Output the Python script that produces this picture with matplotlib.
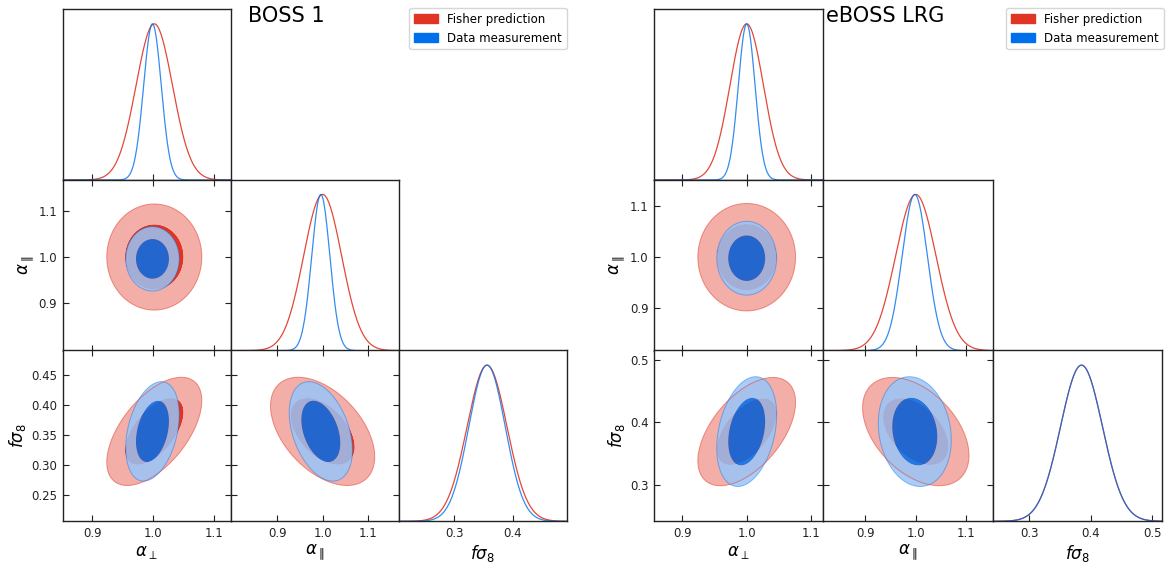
import numpy as np
import matplotlib
matplotlib.use("Agg")
import matplotlib.pyplot as plt
from matplotlib.patches import Patch
import matplotlib.colors as mcolors

FIG_W, FIG_H, DPI = 1170, 566, 100

# ---------------- data ----------------
param_labels = [r'$\alpha_{\perp}$', r'$\alpha_{\parallel}$', r'$f\sigma_8$']
series_names = ['Fisher prediction', 'Data measurement']
series_colors = ['#E03424', '#006FED']

# BOSS 1
boss_title = 'BOSS 1'
boss_limits = [(0.851, 1.128), (0.797, 1.168), (0.2055, 0.4917)]
boss_xticks = [[0.9, 1.0, 1.1], [0.9, 1.0, 1.1], [0.3, 0.4]]
boss_xticklabels = [['0.9', '1.0', '1.1'], ['0.9', '1.0', '1.1'], ['0.3', '0.4']]
boss_yticks = [[], [0.9, 1.0, 1.1], [0.25, 0.30, 0.35, 0.40, 0.45]]
boss_yticklabels = [[], ['0.9', '1.0', '1.1'], ['0.25', '0.30', '0.35', '0.40', '0.45']]
# mean, 2D sigma, 1D sigma, correlations (perp-par, perp-fs8, par-fs8)
boss_fisher_mean = [1.002, 1.000, 0.356]
boss_fisher_sigma = [0.032, 0.047, 0.037]
boss_fisher_sigma_1d = [0.030, 0.042, 0.034]
boss_fisher_corr = [0.0, 0.57, -0.47]
boss_data_mean = [0.999, 0.996, 0.356]
boss_data_sigma = [0.018, 0.0285, 0.034]
boss_data_sigma_1d = [0.0145, 0.020, 0.031]
boss_data_corr = [0.0, 0.33, -0.38]

# eBOSS LRG
eboss_title = 'eBOSS LRG'
eboss_limits = [(0.856, 1.119), (0.817, 1.152), (0.241, 0.5155)]
eboss_xticks = [[0.9, 1.0, 1.1], [0.9, 1.0, 1.1], [0.3, 0.4, 0.5]]
eboss_xticklabels = [['0.9', '1.0', '1.1'], ['0.9', '1.0', '1.1'], ['0.3', '0.4', '0.5']]
eboss_yticks = [[], [0.9, 1.0, 1.1], [0.3, 0.4, 0.5]]
eboss_yticklabels = [[], ['0.9', '1.0', '1.1'], ['0.3', '0.4', '0.5']]
eboss_fisher_mean = [1.000, 1.000, 0.385]
eboss_fisher_sigma = [0.031, 0.043, 0.0355]
eboss_fisher_sigma_1d = [0.026, 0.040, 0.034]
eboss_fisher_corr = [0.0, 0.54, -0.44]
eboss_data_mean = [1.000, 0.998, 0.385]
eboss_data_sigma = [0.019, 0.0295, 0.036]
eboss_data_sigma_1d = [0.013, 0.025, 0.034]
eboss_data_corr = [0.0, 0.30, -0.15]

contour_probs = [0.68, 0.95]

# ---------------- drawing ----------------
fig = plt.figure(figsize=(FIG_W / DPI, FIG_H / DPI), dpi=DPI)
fig.patch.set_facecolor('white')

TICK_FS = 8.5
LABEL_FS = 12


def px_axes(x, y, w, h):
    return fig.add_axes([x / FIG_W, 1 - (y + h) / FIG_H, w / FIG_W, h / FIG_H])


def pale(color, f=0.6):
    r, g, b = mcolors.to_rgb(color)
    return (r * (1 - f) + f, g * (1 - f) + f, b * (1 - f) + f)


def style_axes(ax, one_d=False):
    for s in ax.spines.values():
        s.set_linewidth(1.0)
        s.set_color('#222222')
    if one_d:
        ax.tick_params(axis='x', direction='in', length=4, width=0.8,
                       top=False, bottom=True, labelsize=TICK_FS, pad=4, colors='#222222')
        ax.set_yticks([])
    else:
        ax.tick_params(direction='in', length=4, width=0.8, top=True, right=True,
                       labelsize=TICK_FS, pad=4, colors='#222222')


def draw_triangle(col_x, col_w, row_y, row_h, limits, xticks, xticklabels, yticks,
                  yticklabels, means, sig2d, sig1d, corrs, title, title_x, legend_x):
    n = 3
    corr_index = {(0, 1): 0, (0, 2): 1, (1, 2): 2}
    levels = [-2 * np.log(1 - p) for p in contour_probs]
    for i in range(n):
        for j in range(i + 1):
            ax = px_axes(col_x[j], row_y[i], col_w, row_h)
            if i == j:
                style_axes(ax, one_d=True)
                xs = np.linspace(limits[i][0], limits[i][1], 500)
                for k in range(2):
                    m, s = means[k][i], sig1d[k][i]
                    ax.plot(xs, np.exp(-0.5 * ((xs - m) / s) ** 2),
                            color=series_colors[k], lw=0.9,
                            alpha=0.9 if k == 0 else 0.8)
                ax.set_xlim(limits[i])
                ax.set_ylim(0, 1.095)
            else:
                style_axes(ax)
                xs = np.linspace(limits[j][0], limits[j][1], 400)
                ys = np.linspace(limits[i][0], limits[i][1], 400)
                X, Y = np.meshgrid(xs, ys)
                for k in range(2):
                    mx, my = means[k][j], means[k][i]
                    sx, sy = sig2d[k][j], sig2d[k][i]
                    rho = corrs[k][corr_index[(j, i)]]
                    dx = (X - mx) / sx
                    dy = (Y - my) / sy
                    chi2 = (dx ** 2 - 2 * rho * dx * dy + dy ** 2) / (1 - rho ** 2)
                    c = series_colors[k]
                    a = 1.0 if k == 0 else 0.85
                    ax.contourf(X, Y, chi2, levels=[0, levels[0], levels[1]],
                                colors=[mcolors.to_rgb(c), pale(c)], alpha=a,
                                antialiased=True)
                    ax.contour(X, Y, chi2, levels=[levels[1]], colors=[c],
                               linewidths=0.7, alpha=a * 0.5)
                ax.set_xlim(limits[j])
                ax.set_ylim(limits[i])
            ax.set_xticks(xticks[j])
            if i == n - 1:
                ax.set_xticklabels(xticklabels[j])
                ax.set_xlabel(param_labels[j], fontsize=LABEL_FS, labelpad=2)
            else:
                ax.set_xticklabels([])
            if i != j:
                ax.set_yticks(yticks[i])
                if j == 0:
                    ax.set_yticklabels(yticklabels[i])
                    ax.set_ylabel(param_labels[i], fontsize=LABEL_FS, labelpad=2)
                else:
                    ax.set_yticklabels([])
    fig.text(title_x / FIG_W, 1 - 21.7 / FIG_H, title, fontsize=15, ha='center',
             va='baseline', color='black')
    handles = [Patch(facecolor=series_colors[k], edgecolor=series_colors[k], label=series_names[k])
               for k in range(2)]
    fig.legend(handles=handles, loc='upper right',
               bbox_to_anchor=(legend_x / FIG_W, 1 - 8 / FIG_H),
               fontsize=8.5, frameon=True, borderaxespad=0.0)


row_y = [9.0, 179.6, 350.3]
row_h = 171.0

draw_triangle([62.7, 230.7, 398.7], 168.0, row_y, row_h, boss_limits,
              boss_xticks, boss_xticklabels, boss_yticks, boss_yticklabels,
              [boss_fisher_mean, boss_data_mean],
              [boss_fisher_sigma, boss_data_sigma],
              [boss_fisher_sigma_1d, boss_data_sigma_1d],
              [boss_fisher_corr, boss_data_corr],
              boss_title, 286.5, 566.5)

draw_triangle([654.0, 823.3, 992.7], 169.3, row_y, row_h, eboss_limits,
              eboss_xticks, eboss_xticklabels, eboss_yticks, eboss_yticklabels,
              [eboss_fisher_mean, eboss_data_mean],
              [eboss_fisher_sigma, eboss_data_sigma],
              [eboss_fisher_sigma_1d, eboss_data_sigma_1d],
              [eboss_fisher_corr, eboss_data_corr],
              eboss_title, 884.7, 1163.5)

fig.savefig('out.png', dpi=DPI, facecolor='white')
